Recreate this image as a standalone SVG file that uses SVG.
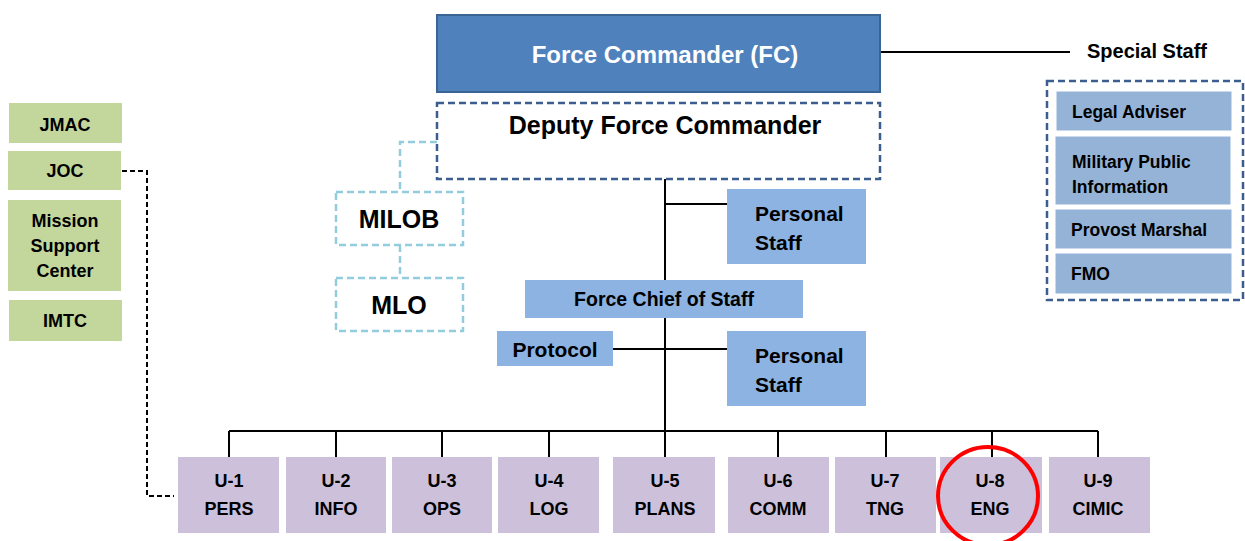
<svg xmlns="http://www.w3.org/2000/svg" width="1245" height="541" viewBox="0 0 1245 541">
<style>
text{font-family:"Liberation Sans",Arial,sans-serif;font-weight:bold;fill:#000;text-anchor:middle;dominant-baseline:central}
.fc{fill:#4F81BD;stroke:#3A6494;stroke-width:2}
.dfc{fill:#fff;stroke:#3B5E8E;stroke-width:2.5;stroke-dasharray:7,4}
.lb{fill:#fff;stroke:#93CDDD;stroke-width:2.5;stroke-dasharray:7,4}
.ss{fill:#95B3D7;stroke:#fff;stroke-width:1}
.ps{fill:#8DB3E2}
.gr{fill:#C3D69B}
.u{fill:#CCC0DA}
.ln{fill:none;stroke:#000;stroke-width:2}
.s17{font-size:17.5px}
.s18{font-size:18px}
.s19{font-size:19.5px}
.s20{font-size:20px}
.s21{font-size:21px}
.s24{font-size:24px}
.s25{font-size:25px}
.l{text-anchor:start}
</style>
<rect width="1245" height="541" fill="#fff"/>
<g id="connectors">
<path class="ln" d="M880,52H1070"/>
<path class="ln" d="M665,179V431"/>
<path class="ln" d="M665,204H727"/>
<path class="ln" d="M613,349H727"/>
<path class="ln" d="M229,431H1098"/>
<path class="ln" d="M229,431V457M336,431V457M442,431V457M549,431V457M665,431V457M778,431V457M886,431V457M992,431V457M1098,431V457"/>
<path fill="none" stroke="#000" stroke-width="2" stroke-dasharray="5,3" d="M122,171H147V496H174"/>
<path fill="none" stroke="#93CDDD" stroke-width="2.5" stroke-dasharray="7,4" d="M437,142H400V192M400,245V278"/>
</g>
<g id="fc"><rect class="fc" x="437" y="15" width="443" height="77"/><text x="665" y="54" class="s24" style="fill:#fff">Force Commander (FC)</text></g>
<g id="dfc"><rect class="dfc" x="437" y="103" width="443" height="76"/><text x="665" y="125" class="s25">Deputy Force Commander</text></g>
<g id="special-staff-label"><text x="1147" y="51" class="s20">Special Staff</text></g>
<g id="special-staff">
<rect x="1047" y="81" width="196" height="219" fill="#fff" stroke="#3B5E8E" stroke-width="2.5" stroke-dasharray="7,4"/>
<rect class="ss" x="1056" y="91" width="176" height="40"/><text x="1072" y="112" class="s17 l">Legal Adviser</text>
<rect class="ss" x="1055" y="136" width="176" height="69"/><text x="1072" y="162" class="s17 l">Military Public</text><text x="1072" y="187" class="s17 l">Information</text>
<rect class="ss" x="1055" y="209" width="177" height="40"/><text x="1071" y="230" class="s17 l">Provost Marshal</text>
<rect class="ss" x="1055" y="253" width="177" height="41"/><text x="1071" y="274" class="s17 l">FMO</text>
</g>
<g id="jmac"><rect class="gr" x="9" y="103" width="113" height="40"/><text x="65" y="125" class="s18">JMAC</text></g>
<g id="joc"><rect class="gr" x="8" y="151" width="113" height="39"/><text x="65" y="171" class="s18">JOC</text></g>
<g id="msc"><rect class="gr" x="8" y="200" width="113" height="91"/><text x="65" y="221" class="s18">Mission</text><text x="65" y="246" class="s18">Support</text><text x="65" y="271" class="s18">Center</text></g>
<g id="imtc"><rect class="gr" x="9" y="300" width="113" height="41"/><text x="65" y="321" class="s18">IMTC</text></g>
<g id="milob"><rect class="lb" x="336" y="192" width="127" height="53"/><text x="399" y="219" class="s25">MILOB</text></g>
<g id="mlo"><rect class="lb" x="336" y="278" width="127" height="53"/><text x="399" y="305" class="s25">MLO</text></g>
<g id="personal-staff-1"><rect class="ps" x="727" y="189" width="139" height="75"/><text x="755" y="213" class="s21 l">Personal</text><text x="755" y="242" class="s21 l">Staff</text></g>
<g id="fcos"><rect class="ps" x="525" y="280" width="278" height="38"/><text x="664" y="299" class="s19">Force Chief of Staff</text></g>
<g id="protocol"><rect class="ps" x="497" y="331" width="116" height="35"/><text x="555" y="349" class="s21">Protocol</text></g>
<g id="personal-staff-2"><rect class="ps" x="727" y="331" width="139" height="75"/><text x="755" y="355" class="s21 l">Personal</text><text x="755" y="384" class="s21 l">Staff</text></g>
<g id="u1"><rect class="u" x="178" y="457" width="101" height="76"/><text x="229" y="481" class="s18">U-1</text><text x="229" y="509" class="s18">PERS</text></g>
<g id="u2"><rect class="u" x="286" y="457" width="100" height="76"/><text x="336" y="481" class="s18">U-2</text><text x="336" y="509" class="s18">INFO</text></g>
<g id="u3"><rect class="u" x="392" y="457" width="100" height="76"/><text x="442" y="481" class="s18">U-3</text><text x="442" y="509" class="s18">OPS</text></g>
<g id="u4"><rect class="u" x="498" y="457" width="101" height="76"/><text x="549" y="481" class="s18">U-4</text><text x="549" y="509" class="s18">LOG</text></g>
<g id="u5"><rect class="u" x="613" y="457" width="102" height="76"/><text x="665" y="481" class="s18">U-5</text><text x="665" y="509" class="s18">PLANS</text></g>
<g id="u6"><rect class="u" x="728" y="457" width="101" height="76"/><text x="778" y="481" class="s18">U-6</text><text x="778" y="509" class="s18">COMM</text></g>
<g id="u7"><rect class="u" x="835" y="457" width="101" height="76"/><text x="885" y="481" class="s18">U-7</text><text x="885" y="509" class="s18">TNG</text></g>
<g id="u8"><rect class="u" x="940" y="457" width="102" height="76"/><text x="990" y="481" class="s18">U-8</text><text x="990" y="509" class="s18">ENG</text></g>
<g id="u9"><rect class="u" x="1049" y="457" width="101" height="76"/><text x="1098" y="481" class="s18">U-9</text><text x="1098" y="509" class="s18">CIMIC</text></g>
<ellipse cx="988" cy="496" rx="50" ry="49" fill="none" stroke="#FF0000" stroke-width="4"/>
</svg>
